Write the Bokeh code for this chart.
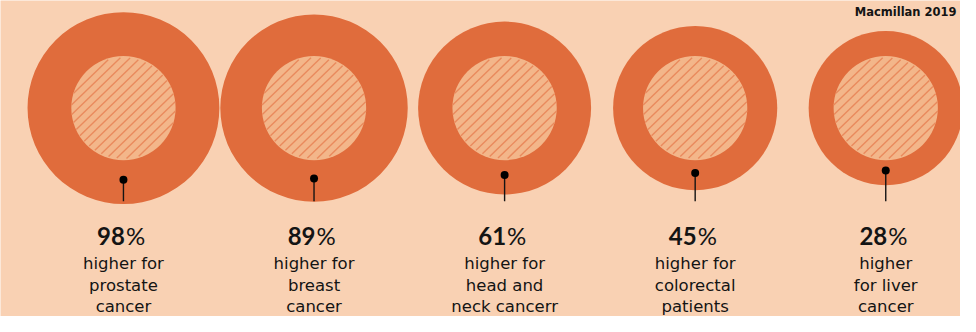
from bokeh.plotting import figure
from bokeh.models import Range1d, ColumnDataSource
from bokeh.core.properties import value
from bokeh.embed import file_html
from bokeh.resources import INLINE
import math

# ---- data ----
categories = ["prostate cancer", "breast cancer", "head and neck cancer",
              "colorectal patients", "liver cancer"]
values = [98, 89, 61, 45, 28]
label_line1 = ["higher for", "higher for", "higher for", "higher for", "higher"]
label_line2 = ["prostate", "breast", "head and", "colorectal", "for liver"]
label_line3 = ["cancer", "cancer", "neck cancerr", "patients", "cancer"]
source_note = "Macmillan 2019"

# ---- layout (drawn in a 976 x 332 coordinate space, scaled to fit) ----
REF_W, REF_H = 976, 332
W, H = 960, 316

BG = "#F9D1B3"
RING = "#E06C3C"
INNER = "#F3B68A"
HATCH = "#E98A5D"
INK = "#141414"

x0, step = 125, 193.75
cy = 113
k = 6.93          # area-proportional scale: r^2 ~ (100 + value)
r_inner = 53
stem_end = 211
hatch_gap = 7.2   # perpendicular spacing of the diagonal hatch lines

xs = [x0 + i * step for i in range(len(values))]
r_outer = [k * math.sqrt(100 + v) for v in values]
dot_y = [cy + (ro + r_inner) / 2 for ro in r_outer]

p = figure(width=W, height=H, output_backend="svg", toolbar_location=None,
           x_range=Range1d(0, REF_W), y_range=Range1d(REF_H, 0),
           min_border=0, outline_line_color=None,
           background_fill_color=BG, border_fill_color=BG)
p.axis.visible = False
p.grid.visible = False

src = ColumnDataSource(dict(
    x=xs, y=[cy] * len(xs), ro=r_outer, ri=[r_inner] * len(xs),
    dy=dot_y, ye=[stem_end] * len(xs),
    num=[str(v) for v in values], pct=["%"] * len(xs),
    l1=label_line1, l2=label_line2, l3=label_line3,
    xn=[x + 1.5 for x in xs], xp=[x + 2.5 for x in xs], yn=[247] * len(xs),
))

p.circle(x="x", y="y", radius="ro", source=src, fill_color=RING, line_color=None)
p.circle(x="x", y="y", radius="ri", source=src, fill_color=INNER, line_color=None)

# diagonal "/" hatch inside each inner disc: chords of the disc
hx0, hy0, hx1, hy1 = [], [], [], []
s2 = math.sqrt(0.5)
for cx in xs:
    n = int(r_inner // hatch_gap)
    for j in range(-n, n + 1):
        t = j * hatch_gap + hatch_gap / 2
        if abs(t) >= r_inner - 0.5:
            continue
        half = math.sqrt(r_inner ** 2 - t ** 2)
        mx, my = cx + t * s2, cy + t * s2
        hx0.append(mx - half * s2); hy0.append(my + half * s2)
        hx1.append(mx + half * s2); hy1.append(my - half * s2)
p.segment(x0=hx0, y0=hy0, x1=hx1, y1=hy1, line_color=HATCH, line_width=1.4)

p.segment(x0="x", y0="dy", x1="x", y1="ye", source=src, line_color=INK, line_width=1.4)
p.scatter(x="x", y="dy", source=src, size=8, fill_color="black", line_color=None)

# numbers: bold digits + regular percent sign
p.text(x="xn", y="yn", text="num", source=src, text_font=value("Lato"),
       text_font_style="bold", text_font_size="24px", text_align="right",
       text_baseline="alphabetic", text_color=INK)
p.text(x="xp", y="yn", text="pct", source=src, text_font=value("Lato"),
       text_font_size="24px", text_align="left",
       text_baseline="alphabetic", text_color=INK)

# description lines
for col, yb in (("l1", 276.5), ("l2", 299), ("l3", 321.5)):
    p.text(x="x", y=yb, text=col, source=src, text_font=value("DejaVu Sans"),
           text_font_size="16.5px", text_align="center", text_baseline="alphabetic",
           text_color=INK)

# source note at the top right
p.text(x=[972], y=[12], text=[source_note], text_font=value("DejaVu Sans"),
       text_font_style="bold", text_font_size="11.5px", text_align="right",
       text_baseline="alphabetic", text_color=INK)

open("out.html", "w").write(file_html(p, INLINE))
